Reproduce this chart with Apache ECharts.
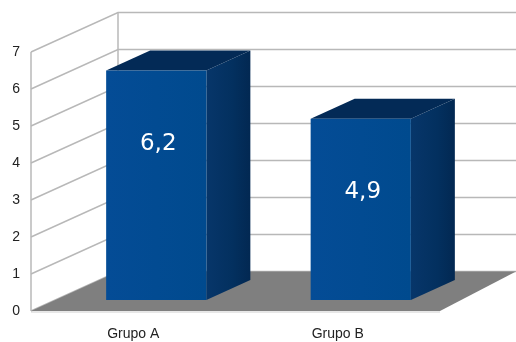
<!DOCTYPE html>
<html>
<head>
<meta charset="utf-8">
<script src="https://cdn.jsdelivr.net/npm/echarts@6/dist/echarts.min.js"></script>
<style>
  html, body { margin: 0; padding: 0; background: #fff; }
  #chart { width: 516px; height: 342px; }
</style>
</head>
<body>
<div id="chart"></div>
<script>
const categories = ['Grupo A', 'Grupo B'];
const values = [6.2, 4.9];
const valueLabels = ['6,2', '4,9'];
const yTicks = [0, 1, 2, 3, 4, 5, 6, 7];

// Oblique projection of the plot box
const WALL_DX = 87, WALL_DY = -39.5;     // depth of the whole box
const BAR_FRONT_DX = 23, BAR_FRONT_DY = -11; // where the bar front sits in depth
const BAR_DX = 44, BAR_DY = -20;         // depth of a single bar
const GRID_COLOR = '#b8b8b8';

const chart = echarts.init(document.getElementById('chart'));

function renderFrame(params, api) {
  const cs = params.coordSys;
  const x0 = cs.x, x1 = cs.x + cs.width;
  const children = [];
  const yOf = v => api.coord([0, v])[1];
  // gridlines: along the left wall, then across the back wall
  yTicks.forEach(t => {
    const y = yOf(t);
    children.push({
      type: 'polyline',
      shape: { points: [[x0, y], [x0 + WALL_DX, y + WALL_DY], [x1 + WALL_DX, y + WALL_DY]] },
      style: { stroke: GRID_COLOR, lineWidth: 1.5, fill: null }
    });
  });
  const yTop = yOf(yTicks[yTicks.length - 1]);
  const yBot = yOf(0);
  // wall edges
  children.push({
    type: 'line',
    shape: { x1: x0, y1: yTop, x2: x0, y2: yBot },
    style: { stroke: GRID_COLOR, lineWidth: 1.5 }
  });
  children.push({
    type: 'line',
    shape: { x1: x0 + WALL_DX, y1: yTop + WALL_DY, x2: x0 + WALL_DX, y2: yBot + WALL_DY },
    style: { stroke: GRID_COLOR, lineWidth: 1.5 }
  });
  // floor
  children.push({
    type: 'polygon',
    shape: { points: [[x0, yBot], [x1, yBot], [x1 + 76, yBot + WALL_DY], [x0 + WALL_DX, yBot + WALL_DY]] },
    style: { fill: '#7f7f7f', lineWidth: 0 }
  });
  children.push({
    type: 'line',
    shape: { x1: x0, y1: yBot + 1, x2: x1, y2: yBot + 1 },
    style: { stroke: '#cfcfcf', lineWidth: 1 }
  });
  return { type: 'group', children };
}

function renderBar(params, api) {
  const idx = api.value(0);
  const val = api.value(1);
  const top = api.coord([idx, val]);
  const base = api.coord([idx, 0]);
  const w = api.size([1, 0])[0] * 0.49;
  const cx = top[0] + BAR_FRONT_DX;
  const xl = cx - w / 2, xr = cx + w / 2;
  const yt = top[1] + BAR_FRONT_DY, yb = base[1] + BAR_FRONT_DY;
  return {
    type: 'group',
    children: [
      { // side face
        type: 'polygon',
        shape: { points: [[xr, yt], [xr + BAR_DX, yt + BAR_DY], [xr + BAR_DX, yb + BAR_DY], [xr, yb]] },
        style: {
          fill: new echarts.graphic.LinearGradient(0, 0, 1, 0, [
            { offset: 0, color: '#07366a' },
            { offset: 0.6, color: '#03305f' },
            { offset: 1, color: '#022852' }
          ])
        }
      },
      { // top face
        type: 'polygon',
        shape: { points: [[xl, yt], [xl + BAR_DX, yt + BAR_DY], [xr + BAR_DX, yt + BAR_DY], [xr, yt]] },
        style: { fill: '#032a56' }
      },
      { // front face
        type: 'rect',
        shape: { x: xl, y: yt, width: w, height: yb - yt },
        style: {
          fill: new echarts.graphic.LinearGradient(0, 0, 1, 0, [
            { offset: 0, color: '#044c96' },
            { offset: 1, color: '#004a8e' }
          ])
        }
      },
      {
        type: 'text',
        style: {
          text: valueLabels[idx],
          x: cx + 2, y: yt + 73,
          align: 'center', verticalAlign: 'middle',
          fill: '#ffffff',
          font: '23px "DejaVu Sans", sans-serif'
        }
      }
    ]
  };
}

chart.setOption({
  animation: false,
  grid: { left: 31, right: 76, top: 52, bottom: 31 },
  xAxis: {
    type: 'category',
    data: categories,
    axisLine: { show: false },
    axisTick: { show: false },
    axisLabel: { margin: 16, fontSize: 14, color: '#222', fontFamily: 'Liberation Sans, Arial, sans-serif' }
  },
  yAxis: {
    type: 'value',
    min: 0, max: 7, interval: 1,
    axisLine: { show: false },
    axisTick: { show: false },
    splitLine: { show: false },
    axisLabel: { margin: 11, fontSize: 14, color: '#222', fontFamily: 'Liberation Sans, Arial, sans-serif' }
  },
  series: [
    {
      type: 'custom',
      renderItem: renderFrame,
      data: [[0, 0]],
      silent: true,
      z: 1
    },
    {
      type: 'custom',
      renderItem: renderBar,
      data: values.map((v, i) => [i, v]),
      encode: { x: 0, y: 1 },
      z: 2
    }
  ]
});
</script>
</body>
</html>
